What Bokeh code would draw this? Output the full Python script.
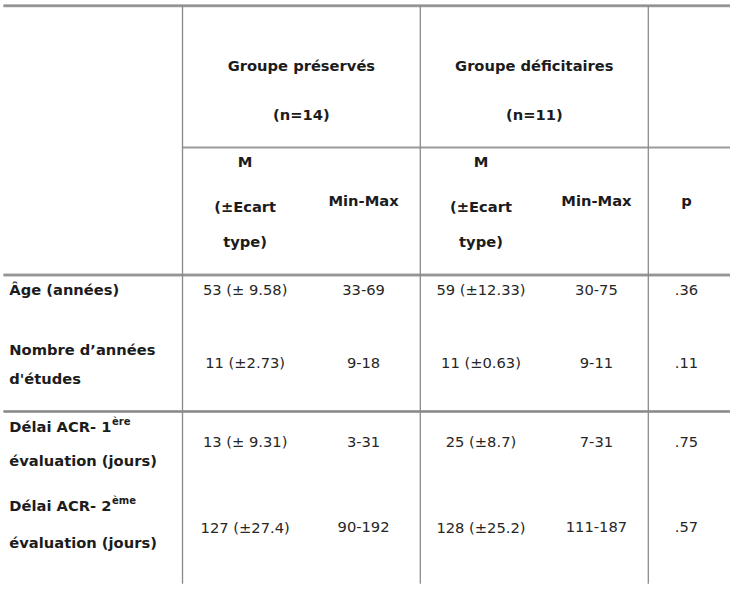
from bokeh.plotting import figure
from bokeh.models import Range1d, ColumnDataSource
from bokeh.core.properties import value
from bokeh.embed import file_html
from bokeh.resources import INLINE

# ---------------- data ----------------
group_names = ["Groupe préservés", "Groupe déficitaires"]
group_sizes = ["(n=14)", "(n=11)"]
stat_header_lines = ["M", "(±Ecart", "type)"]
range_header = "Min-Max"
p_header = "p"

row_labels = [
    ["Âge (années)"],
    ["Nombre d’années", "d'études"],
    ["Délai ACR- 1", "évaluation (jours)"],
    ["Délai ACR- 2", "évaluation (jours)"],
]
row_label_sups = ["", "", "ère", "ème"]

mean_preserves = ["53 (± 9.58)", "11 (±2.73)", "13 (± 9.31)", "127 (±27.4)"]
range_preserves = ["33-69", "9-18", "3-31", "90-192"]
mean_deficit = ["59 (±12.33)", "11 (±0.63)", "25 (±8.7)", "128 (±25.2)"]
range_deficit = ["30-75", "9-11", "7-31", "111-187"]
p_values = [".36", ".11", ".75", ".57"]

# ---------------- layout (reference-image coordinates) ----------------
W, H = 730, 593
REF_W, REF_H = 746, 609
FONT = "DejaVu Sans"
TXT = "#1c1c1c"
VAL = "#262626"
LINE = "#8a8a8a"
FS = "14.7px"

v_edges = [186, 429, 662]
table_top, table_bottom = 5.5, 599
header_rule_y = 151
double_rules_y = [282, 422]

group_cx = [307.5, 545.5]
group_name_y, group_size_y = 67, 117
col_cx = [250, 371, 491, 609, 701]
stat_hdr_y = [165, 212, 247]
minmax_hdr_y = 205

value_rows_y = [297, 372, 453, 541]
label_rows_y = [[297], [358, 388], [437, 472], [519, 557]]
label_x = 9
sup_dx = 105
sup_dy = -5

p = figure(width=W, height=H, output_backend="svg", toolbar_location=None,
           x_range=Range1d(0, REF_W), y_range=Range1d(REF_H, 0),
           x_axis_location=None, y_axis_location=None, min_border=0,
           background_fill_color="white", border_fill_color="white")
p.grid.visible = False
p.outline_line_color = None

# ---------------- rules ----------------
heavy_y = [table_top] + double_rules_y
n = len(heavy_y)
p.segment(x0=[3] * n, y0=heavy_y, x1=[REF_W + 5] * n, y1=heavy_y,
          line_color="#a4a4a4", line_width=3)
p.segment(x0=[3] * n, y0=heavy_y, x1=[REF_W + 5] * n, y1=heavy_y,
          line_color="#868686", line_width=1)
p.segment(x0=[v_edges[0]], y0=[header_rule_y], x1=[REF_W + 5], y1=[header_rule_y],
          line_color="#9a9a9a", line_width=2)
p.segment(x0=v_edges, y0=[table_top] * 3, x1=v_edges, y1=[table_bottom] * 3,
          line_color=LINE, line_width=1.3)

# ---------------- texts ----------------
def add_text(xs, ys, texts, bold=True, size=FS, align="center", color=TXT):
    src = ColumnDataSource(dict(x=xs, y=ys, t=texts))
    p.text(x="x", y="y", text="t", source=src, text_font=value(FONT),
           text_font_size=size, text_font_style="bold" if bold else "normal",
           text_align=align, text_baseline="middle", text_color=color)

add_text(group_cx, [group_name_y] * 2, group_names)
add_text(group_cx, [group_size_y] * 2, group_sizes)

for gi in range(2):
    add_text([col_cx[2 * gi]] * 3, stat_hdr_y, stat_header_lines)
    add_text([col_cx[2 * gi + 1]], [minmax_hdr_y], [range_header])
add_text([col_cx[4]], [minmax_hdr_y], [p_header])

lx, ly, lt = [], [], []
for lines, ys in zip(row_labels, label_rows_y):
    for t, y in zip(lines, ys):
        lx.append(label_x); ly.append(y); lt.append(t)
add_text(lx, ly, lt, align="left")

sx, sy, st = [], [], []
for sup, ys in zip(row_label_sups, label_rows_y):
    if sup:
        sx.append(label_x + sup_dx); sy.append(ys[0] + sup_dy); st.append(sup)
add_text(sx, sy, st, size="10px", align="left")

columns = [mean_preserves, range_preserves, mean_deficit, range_deficit, p_values]
for cx, col in zip(col_cx, columns):
    add_text([cx] * len(col), value_rows_y, col, bold=False, color=VAL)

open("out.html", "w").write(file_html(p, INLINE))
